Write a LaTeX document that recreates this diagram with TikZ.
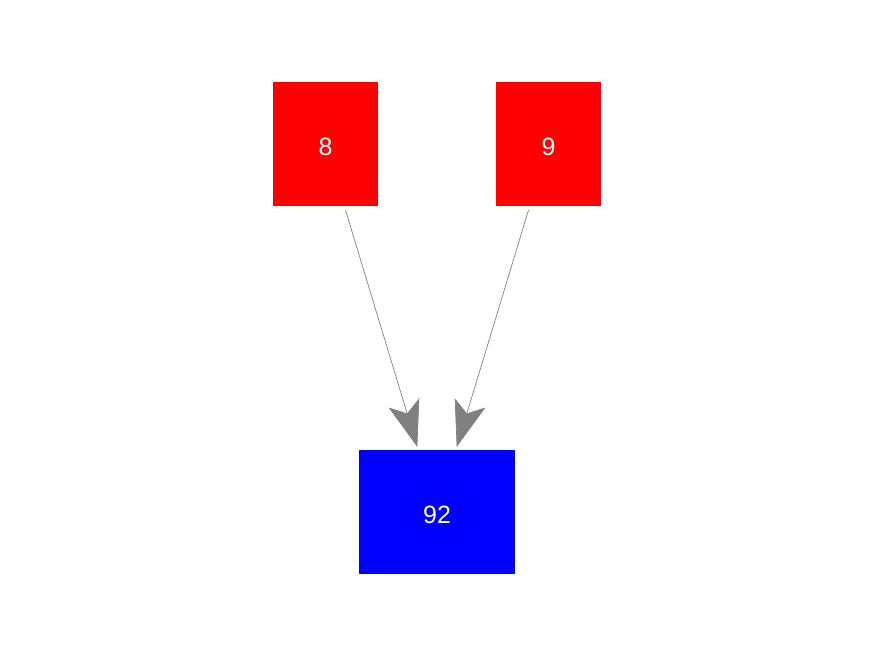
\documentclass[tikz,border=0pt]{standalone}
\usepackage{fontspec}
\setmainfont{Liberation Sans}
\usetikzlibrary{arrows.meta}

\begin{document}
\begin{tikzpicture}[x=1pt,y=-1pt,
		box/.style={inner sep=0pt, text=white, text height=23pt, font=\fontsize{25}{30}\selectfont},
		rednode/.style={box, fill=red, minimum width=105pt, minimum height=124pt},
		bluenode/.style={box, fill=blue, minimum width=156pt, minimum height=124pt},
		link/.style={draw=gray, line width=0.7pt, -{Stealth[length=46pt, width=32pt, inset=11pt]}, shorten <=4pt, shorten >=3pt}]
		\useasboundingbox (0,0) rectangle (875,656);

		\node[rednode] (n8) at (325.5,144) {8};
		\node[rednode] (n9) at (548.5,144) {9};
		\node[bluenode] (n92) at (437,512) {92};

		\draw[link] (n8) -- (n92);
		\draw[link] (n9) -- (n92);

	\end{tikzpicture}
\end{document}
